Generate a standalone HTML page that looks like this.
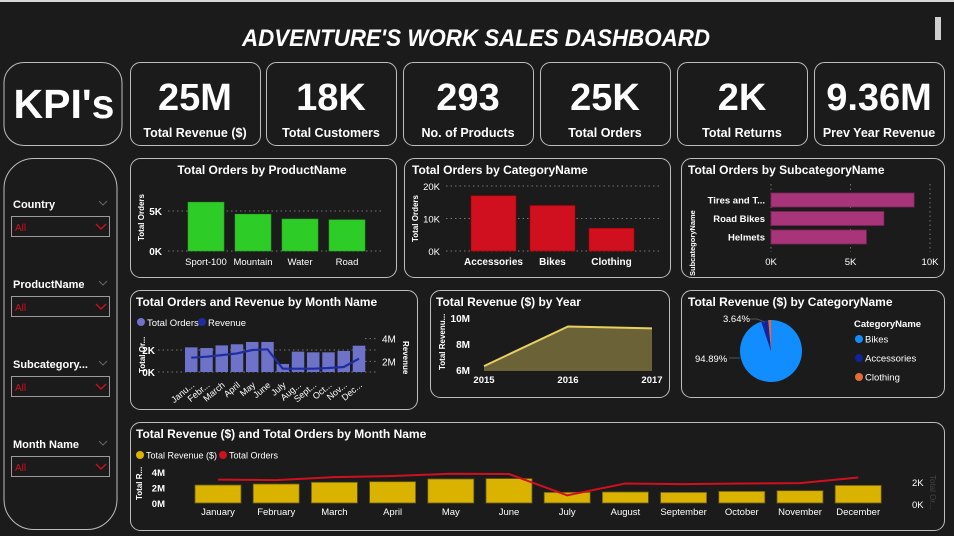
<!DOCTYPE html>
<html><head><meta charset="utf-8">
<style>
html,body{margin:0;padding:0;background:#1b1b1b;}
body{width:954px;height:536px;overflow:hidden;position:relative;font-family:"Liberation Sans",sans-serif;}
svg{position:absolute;left:0;top:0;}
text{font-family:"Liberation Sans",sans-serif;}
</style></head>
<body>
<svg id="dash" width="954" height="536" viewBox="0 0 954 536">
  <rect x="0" y="0" width="954" height="536" fill="#1b1b1b"/>
  <rect x="0" y="0" width="954" height="2" fill="#d8d8d8"/>
  <text x="242" y="46" textLength="468" lengthAdjust="spacingAndGlyphs" fill="#fff" font-size="24" font-weight="bold" font-style="italic">ADVENTURE'S WORK SALES DASHBOARD</text>
  <rect x="935" y="17" width="6" height="23" fill="#cfcfcf"/>

  <rect x="4" y="62.5" width="118" height="83" rx="20" fill="none" stroke="#bdbdbd" stroke-width="1"/>
  <text x="64" y="118" text-anchor="middle" fill="#fff" font-size="41" font-weight="bold">KPI's</text>
  <g id="kpis"></g>

  <rect x="4" y="158.5" width="113" height="371" rx="30" fill="none" stroke="#bdbdbd"/>
  <g id="slicers"></g>

  <g id="charts"></g>
</svg>
<script>
const NS='http://www.w3.org/2000/svg';
function mk(parent,tag,attrs,txt){const e=document.createElementNS(NS,tag);for(const k in attrs)e.setAttribute(k,attrs[k]);if(txt!==undefined)e.textContent=txt;parent.appendChild(e);return e;}

// ===== DATA =====
const kpiValues=['25M','18K','293','25K','2K','9.36M'];
const kpiLabels=['Total Revenue ($)','Total Customers','No. of Products','Total Orders','Total Returns','Prev Year Revenue'];
const slicerLabels=['Country','ProductName','Subcategory...','Month Name'];

const productNames=['Sport-100','Mountain','Water','Road'];
const productOrders=[6100,4600,4000,3900];
const productTicks=[0,5000];
const productTickLabels=['0K','5K'];

const categoryNames=['Accessories','Bikes','Clothing'];
const categoryOrders=[17000,14000,7000];
const categoryTicks=[0,10000,20000];
const categoryTickLabels=['0K','10K','20K'];

const subcatNames=['Tires and T...','Road Bikes','Helmets'];
const subcatOrders=[9000,7100,6000];
const subcatTicks=[0,5000,10000];
const subcatTickLabels=['0K','5K','10K'];

const monthShort=['Janu...','Febr...','March','April','May','June','July','Aug...','Sept...','Oct...','Nov...','Dec...'];
const monthOrders=[2240,2180,2420,2520,2730,2730,730,1850,1790,1790,1910,2390];
const monthRevenue=[2.32,2.41,2.55,2.7,3.0,3.06,1.35,1.35,1.35,1.41,1.5,2.24];
const ordTicks=[0,2000];const ordTickLabels=['0K','2K'];
const revTicks=[2,4];const revTickLabels=['2M','4M'];

const years=['2015','2016','2017'];
const yearRevenue=[6.3,9.35,9.2];
const yearTicks=[6,8,10];const yearTickLabels=['6M','8M','10M'];

const pieCats=['Bikes','Accessories','Clothing'];
const pieShares=[94.89,3.64,1.47];
const pieColors=['#118dff','#12239e','#e66c37'];

const monthFull=['January','February','March','April','May','June','July','August','September','October','November','December'];
const bottomRevenue=[2.32,2.45,2.67,2.75,3.1,3.15,1.37,1.42,1.37,1.5,1.59,2.27];
const bottomOrders=[2200,2150,2420,2520,2730,2700,780,1850,1790,1850,1880,2390];
const bRevTicks=[0,2,4];const bRevTickLabels=['0M','2M','4M'];
const bOrdTicks=[0,2000];const bOrdTickLabels=['0K','2K'];

// ===== KPI cards =====
const kg=document.getElementById('kpis');
const kx=[130,266,403,540,677,814];
kpiValues.forEach((v,i)=>{
  const r=mk(kg,'rect',{x:kx[i]+0.5,y:62.5,width:130,height:83,rx:10,fill:'none',stroke:'#bdbdbd'});
  
  
  const t=mk(kg,'text',{x:kx[i]+65,y:110,'text-anchor':'middle',fill:'#fff','font-size':38,'font-weight':'bold'},v);
  
  
  const l=mk(kg,'text',{x:kx[i]+65,y:137,'text-anchor':'middle',fill:'#fff','font-size':12.5,'font-weight':'bold'},kpiLabels[i]);
  
  
});

// ===== slicers =====
const sg=document.getElementById('slicers');
slicerLabels.forEach((s,i)=>{
  const y0=204+i*80;
  const t=mk(sg,'text',{x:13,y:y0+4,fill:'#fff','font-size':11,'font-weight':'bold'},s);
  
  
  const c=mk(sg,'path',{d:`M${99} ${y0-3} l4 4 l4 -4`,stroke:'#666',fill:'none','stroke-width':1});
  
  
  const b=mk(sg,'rect',{x:11.5,y:y0+12.5,width:98,height:20,fill:'none',stroke:'#9a9a9a','stroke-width':1});
  
  
  const a=mk(sg,'text',{x:15,y:y0+27,fill:'#d0101e','font-size':10},'All');
  
  
  const ch=mk(sg,'path',{d:`M${96} ${y0+20} l5 5 l5 -5`,stroke:'#d0101e',fill:'none','stroke-width':1.3});
  
  
});

// ===== charts =====
const cg=document.getElementById('charts');
function card(x,y,w,h,title,tx,anchor,name){
  const g=mk(cg,'g',{});
  
  
  const r=mk(g,'rect',{x:x+0.5,y:y+0.5,width:w,height:h,rx:10,fill:'none',stroke:'#bdbdbd'});
  
  
  const t=mk(g,'text',{x:tx,y:y+16,'text-anchor':anchor||'start',fill:'#fff','font-size':12,'font-weight':'bold'},title);
  
  
  return g;
}
function grid(g,x1,x2,y){const l=mk(g,'line',{x1:x1,x2:x2,y1:y,y2:y,stroke:'#777','stroke-dasharray':'1.5,3','stroke-width':1});}
function lab(g,x,y,s,anchor,size,bold,fill,name,rot){
  const a={x:x,y:y,'text-anchor':anchor,fill:fill||'#fff','font-size':size||10};
  if(bold)a['font-weight']='bold';
  if(rot)a.transform=`rotate(${rot} ${x} ${y})`;
  const t=mk(g,'text',a,s);
  
  
  return t;
}

// Chart 1
{
  const g=card(130,158,266,119,'Total Orders by ProductName',262,'middle','orders-by-product-chart');
  const y=v=>251-v/5000*40;
  const bx=i=>188+i*47;
  productTicks.forEach((t,i)=>{grid(g,168,383,y(t));lab(g,162,y(t)+4,productTickLabels[i],'end',10,true,'#fff','y-tick');});
  lab(g,144,241,'Total Orders','start',8,true,'#fff','y-axis-title',-90);
  productOrders.forEach((v,i)=>{
    const r=mk(g,'rect',{x:bx(i),y:y(v),width:36,height:251-y(v),fill:'#2ecc27',stroke:'#27a322','stroke-width':0.6});
    
    
    lab(g,bx(i)+18,265,productNames[i],'middle',9.5,false,'#fff','x-tick');
  });
}
// Chart 2
{
  const g=card(404,158,266,119,'Total Orders by CategoryName',412,'start','orders-by-category-chart');
  const y=v=>251-v/20000*65;
  const bx=i=>471+i*59;
  categoryTicks.forEach((t,i)=>{grid(g,446,662,y(t));lab(g,440,y(t)+4,categoryTickLabels[i],'end',9.5,false,'#fff','y-tick');});
  lab(g,418,242,'Total Orders','start',8,true,'#fff','y-axis-title',-90);
  categoryOrders.forEach((v,i)=>{
    const r=mk(g,'rect',{x:bx(i),y:y(v),width:45,height:251-y(v),fill:'#d0101e',stroke:'#a00',"stroke-width":0.6});
    
    
    lab(g,bx(i)+22.5,265,categoryNames[i],'middle',10,true,'#fff','x-tick');
  });
}
// Chart 3
{
  const g=card(681,158,263,119,'Total Orders by SubcategoryName',688,'start','orders-by-subcategory-chart');
  const x=v=>771+v/10000*159;
  subcatTicks.forEach((t,i)=>{
    const l=mk(g,'line',{x1:x(t),x2:x(t),y1:184,y2:252,stroke:'#777','stroke-dasharray':'1.5,3'});
    
    
    lab(g,x(t),265,subcatTickLabels[i],'middle',9.5,false,'#fff','x-tick');
  });
  lab(g,695,276,'SubcategoryName','start',7.5,true,'#fff','y-axis-title',-90);
  subcatOrders.forEach((v,i)=>{
    const yy=193+i*18.5;
    const r=mk(g,'rect',{x:771,y:yy,width:x(v)-771,height:14,fill:'#a83579',stroke:'#7a2458','stroke-width':0.8});
    
    
    lab(g,765,yy+10.5,subcatNames[i],'end',9.5,true,'#fff','y-tick');
  });
}
// Chart 4
{
  const g=card(130,290,287,119,'Total Orders and Revenue by Month Name',136,'start','orders-revenue-by-month-chart');
  const yL=v=>372-v/2000*22;
  const yR=v=>384-v*11.33;
  const bx=i=>185+i*15.25;
  ordTicks.forEach((t,i)=>{grid(g,158,377,yL(t));lab(g,155,yL(t)+4,ordTickLabels[i],'end',10,true,'#fff','y-tick-left');});
  revTicks.forEach((t,i)=>{grid(g,365,377,yR(t));lab(g,382,yR(t)+4,revTickLabels[i],'start',10,false,'#fff','y-tick-right');});
  lab(g,145,373,'Total Or...','start',8,true,'#fff','y-axis-title-left',-90);
  lab(g,403,341,'Revenue','start',8,true,'#fff','y-axis-title-right',90);
  const c1=mk(g,'circle',{cx:141,cy:322,r:4,fill:'#6e72c8'});
  lab(g,147,326,'Total Orders','start',9.5,false,'#fff','legend-entry-orders');
  const c2=mk(g,'circle',{cx:202,cy:322,r:4,fill:'#1f2d9e'});
  lab(g,208,326,'Revenue','start',9.5,false,'#fff','legend-entry-revenue');
  monthOrders.forEach((v,i)=>{
    const r=mk(g,'rect',{x:bx(i),y:yL(v),width:12.5,height:372-yL(v),fill:'#6e72c8'});
    
    
    lab(g,bx(i)+10,386,monthShort[i],'end',9,false,'#fff','x-tick',-40);
  });
  const pts=monthRevenue.map((v,i)=>(bx(i)+6.25)+','+yR(v)).join(' ');
  const pl=mk(g,'polyline',{points:pts,fill:'none',stroke:'#1f2d9e','stroke-width':2.2});
  
  
}
// Chart 5
{
  const g=card(430,290,239,107,'Total Revenue ($) by Year',436,'start','revenue-by-year-chart');
  const y=v=>370-(v-6)/2*26;
  const x=i=>484+i*84;
  yearTicks.forEach((t,i)=>lab(g,470,y(t)+4,yearTickLabels[i],'end',10,true,'#fff','y-tick'));
  lab(g,445,370,'Total Revenu...','start',8,true,'#fff','y-axis-title',-90);
  years.forEach((yr,i)=>lab(g,x(i),383,yr,'middle',9.5,true,'#fff','x-tick'));
  const pts=yearRevenue.map((v,i)=>x(i)+','+y(v)).join(' ');
  const ar=mk(g,'polygon',{points:`${x(0)},371 `+pts+` ${x(2)},371`,fill:'#6b6238'});
  
  
  const pl=mk(g,'polyline',{points:pts,fill:'none',stroke:'#e8d060','stroke-width':2});
  
  
}
// Chart 6
{
  const g=card(681,290,263,107,'Total Revenue ($) by CategoryName',688,'start','revenue-by-category-pie');
  const cx=771,cy=351,r=31;
  let a0=0;
  const total=pieShares.reduce((s,v)=>s+v,0);
  pieShares.forEach((v,i)=>{
    const a1=a0+v/total*2*Math.PI;
    const p=(a)=>[cx+r*Math.sin(a),cy-r*Math.cos(a)];
    const [x0,y0]=p(a0),[x1,y1]=p(a1);
    const large=(a1-a0)>Math.PI?1:0;
    const s=mk(g,'path',{d:`M${cx},${cy} L${x0},${y0} A${r},${r} 0 ${large} 1 ${x1},${y1} Z`,fill:pieColors[i]});
    
    
    a0=a1;
  });
  const l1=mk(g,'polyline',{points:'750,319 757,319 765,322',fill:'none',stroke:'#555'});
  
  lab(g,723,322,pieShares[1].toFixed(2)+'%','start',9.5,false,'#fff','pie-label-accessories');
  const l2=mk(g,'polyline',{points:'729,358 740,358',fill:'none',stroke:'#555'});
  
  lab(g,695,362,pieShares[0].toFixed(2)+'%','start',9.5,false,'#fff','pie-label-bikes');
  lab(g,854,327,'CategoryName','start',9.5,true,'#fff','legend-title');
  pieCats.forEach((c,i)=>{
    const d=mk(g,'circle',{cx:859,cy:339+i*19,r:4,fill:pieColors[i]});
    
    
    lab(g,865,342.5+i*19,c,'start',9.5,false,'#fff','legend-entry-'+c.toLowerCase());
  });
}
// Chart 7
{
  const g=card(130,422,814,108,'Total Revenue ($) and Total Orders by Month Name',136,'start','revenue-orders-by-month-chart');
  const yL=v=>503-v*7.75;
  const yR=v=>504-v/1000*11.1;
  const bx=i=>195+i*58.2;
  bRevTicks.forEach((t,i)=>lab(g,165,yL(t)+4,bRevTickLabels[i],'end',9.5,true,'#fff','y-tick-left'));
  bOrdTicks.forEach((t,i)=>lab(g,912,yR(t)+4,bOrdTickLabels[i],'start',9.5,false,'#fff','y-tick-right'));
  lab(g,142,500,'Total R...','start',8,true,'#fff','y-axis-title-left',-90);
  lab(g,930,475,'Total Or...','start',8,false,'#444','y-axis-title-right',90);
  const c1=mk(g,'circle',{cx:140,cy:455,r:4,fill:'#d9b300'});
  lab(g,146,458.5,'Total Revenue ($)','start',9,false,'#fff','legend-entry-revenue');
  const c2=mk(g,'circle',{cx:223,cy:455,r:4,fill:'#d0101e'});
  lab(g,229,458.5,'Total Orders','start',9,false,'#fff','legend-entry-orders');
  bottomRevenue.forEach((v,i)=>{
    const r=mk(g,'rect',{x:bx(i),y:yL(v),width:46,height:503-yL(v),fill:'#d9b300',stroke:'#6b5a10','stroke-width':0.8});
    
    
    lab(g,bx(i)+23,515,monthFull[i],'middle',9.5,false,'#fff','x-tick');
  });
  const pts=bottomOrders.map((v,i)=>(bx(i)+23)+','+yR(v)).join(' ');
  const pl=mk(g,'polyline',{points:pts,fill:'none',stroke:'#d0101e','stroke-width':2});
  
  
}
</script>
</body></html>
